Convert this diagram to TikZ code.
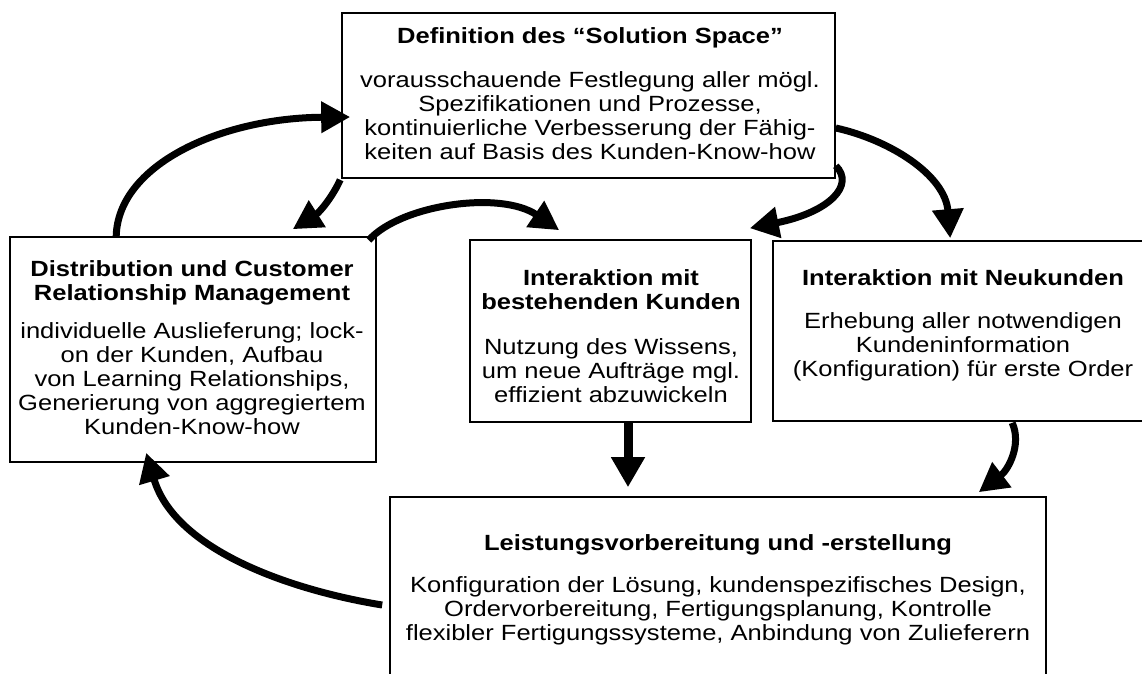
\documentclass[tikz,border=0pt]{standalone}
\usepackage{fontspec}
\setmainfont{Liberation Sans}[FakeStretch=1.16]
\usetikzlibrary{arrows.meta,calc}
\newcommand\mylines[1]{\vtop{\halign{\hfil##\hfil\cr#1\crcr}}}
\begin{document}
\begin{tikzpicture}[x=1pt,y=-1pt,
  box/.style={draw, line width=1.6pt, rectangle, inner sep=0pt},
  txt/.style={inner sep=0pt, anchor=base, font=\fontsize{22}{24}\selectfont},
  ttl/.style={inner sep=0pt, anchor=base, font=\fontsize{22}{24}\selectfont\bfseries},
  flow/.style={line width=7pt, -{Triangle[length=29pt,width=30pt]}},
]
\useasboundingbox (0,0) rectangle (1142,673);
\fill[white] (0,0) rectangle (1142,673);
\clip (0,0) rectangle (1142,673);

% boxes
\node[box, minimum width=493pt, minimum height=165pt] (def) at (588.5,95.5) {};
\node[box, minimum width=366pt, minimum height=225pt] (dist) at (193,349.5) {};
\node[box, minimum width=281pt, minimum height=182pt] (best) at (610.5,331) {};
\node[box, minimum width=380pt, minimum height=180pt] (neu) at (963,331) {};
\node[box, minimum width=656pt, minimum height=263pt] (leist) at (718,628.5) {};

% texts
\node[ttl] (defT) at (590,43) {Definition des “Solution Space”};
\node[txt] (defB) at (590,87) {\mylines{vorausschauende Festlegung aller mögl.\cr Spezifikationen und Prozesse,\cr kontinuierliche Verbesserung der Fähig-\cr keiten auf Basis des Kunden-Know-how}};

\node[ttl] (distT) at (192,276) {\mylines{Distribution und Customer\cr Relationship Management}};
\node[txt] (distB) at (192,338) {\mylines{individuelle Auslieferung; lock-\cr on der Kunden, Aufbau\cr von Learning Relationships,\cr Generierung von aggregiertem\cr Kunden-Know-how}};

\node[ttl] (bestT) at (611,285) {\mylines{Interaktion mit\cr bestehenden Kunden}};
\node[txt] (bestB) at (611,354) {\mylines{Nutzung des Wissens,\cr um neue Aufträge mgl.\cr effizient abzuwickeln}};

\node[ttl] (neuT) at (963,285) {Interaktion mit Neukunden};
\node[txt] (neuB) at (963,328) {\mylines{Erhebung aller notwendigen\cr Kundeninformation\cr (Konfiguration) für erste Order}};

\node[ttl] (leistT) at (718,550) {Leistungsvorbereitung und -erstellung};
\node[txt] (leistB) at (718,592) {\mylines{Konfiguration der Lösung, kundenspezifisches Design,\cr Ordervorbereitung, Fertigungsplanung, Kontrolle\cr flexibler Fertigungssysteme, Anbindung von Zulieferern}};

% connectors
\draw[flow] ($(dist.north west)+(107,0)$) .. controls (118,165) and (220,118) .. ($(def.west)+(9,21.5)$);
\draw[flow] ($(def.south west)+(-1,1)$) .. controls (333,196) and (320,212) .. ($(dist.north east)+(-84,-7)$);
\draw[flow] ($(dist.north east)+(-8,4)$) .. controls (400,205) and (500,190) .. ($(best.north west)+(90,-9)$);
\draw[flow] ($(def.south east)+(0,-13)$) .. controls (855,185) and (830,212) .. ($(best.north east)+(-2,-11)$);
\draw[flow] ($(def.east)+(0,32.5)$) .. controls (890,140) and (945,175) .. ($(neu.north west)+(178,-2)$);
\draw[flow, line width=9pt, -{Triangle[length=30pt,width=32pt]}] ($(best.south)+(17.5,0)$) -- ($(leist.north)+(-90,-9)$);
\draw[flow] ($(neu.south west)+(240,1)$) .. controls (1022,445) and (1008,470) .. ($(leist.north east)+(-68,-4)$);
\draw[flow] ($(leist.west)+(-7,-23.5)$) .. controls (290,590) and (175,550) .. ($(dist.south west)+(137,-10)$);
\end{tikzpicture}
\end{document}
